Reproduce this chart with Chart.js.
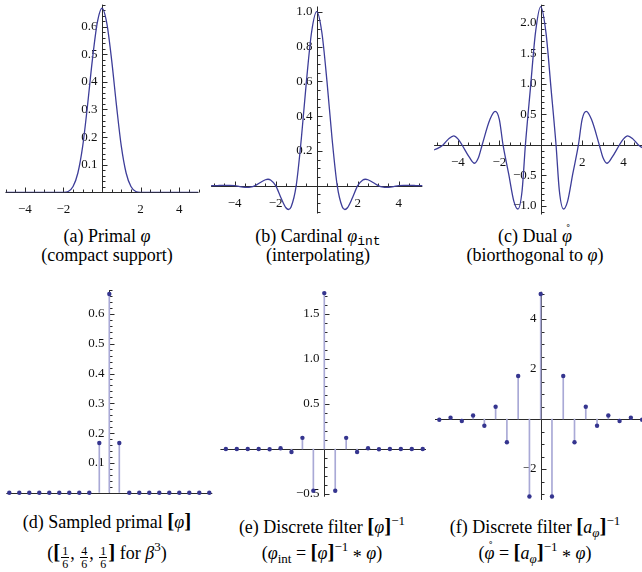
<!DOCTYPE html>
<html>
<head>
<meta charset="utf-8">
<script src="https://cdn.jsdelivr.net/npm/chart.js@4.4.1/dist/chart.umd.min.js"></script>
<style>
  body { margin: 0; width: 642px; height: 572px; background: #fff; position: relative; overflow: hidden;
         font-family: "Liberation Serif", serif; color: #000; }
  canvas { position: absolute; }
  .cap { position: absolute; width: 320px; text-align: center; font-size: 18px; line-height: 20px; white-space: nowrap; }
  .cap i { font-style: italic; }
  .tt { font-family: "Liberation Mono", monospace; font-size: 13px; vertical-align: -3px; }
  .sub { font-size: 13px; vertical-align: -4px; }
  .sup { font-size: 13px; vertical-align: 8px; }
  .br { font-weight: bold; font-size: 21px; }
  .ast { display: inline-block; font-size: 18px; vertical-align: -4px; }
  .frac { display: inline-block; vertical-align: -9px; text-align: center; font-size: 12px; line-height: 12px; margin: 0 1px; }
  .frac span { display: block; }
  .frac span:first-child { border-bottom: 1px solid #000; padding: 0 1px; }
  .ring { position: relative; display: inline-block; }
  .ring .r { position: absolute; left: 4px; top: -7px; font-style: normal; font-size: 13px; }
</style>
</head>
<body>
<div class="cap" style="left:-53px;top:226px">(a) Primal <i>φ</i></div>
<div class="cap" style="left:-53px;top:245px">(compact support)</div>
<div class="cap" style="left:158px;top:226px">(b) Cardinal <i>φ</i><span class="tt">int</span></div>
<div class="cap" style="left:158px;top:245px">(interpolating)</div>
<div class="cap" style="left:375px;top:226px">(c) Dual <span class="ring"><i>φ</i><span class="r">˚</span></span></div>
<div class="cap" style="left:375px;top:245px">(biorthogonal to <i>φ</i>)</div>
<div class="cap" style="left:-53px;top:511px">(d) Sampled primal <span class="br">[</span><i>φ</i><span class="br">]</span></div>
<div class="cap" style="left:-53px;top:537px">(<span class="br">[</span><span class="frac"><span>1</span><span>6</span></span>, <span class="frac"><span>4</span><span>6</span></span>, <span class="frac"><span>1</span><span>6</span></span><span class="br">]</span> for <i>β</i><span class="sup">3</span>)</div>
<div class="cap" style="left:162px;top:511px">(e) Discrete filter <span class="br">[</span><i>φ</i><span class="br">]</span><span class="sup">−1</span></div>
<div class="cap" style="left:162px;top:537px">(<i>φ</i><span class="sub">int</span> = <span class="br">[</span><i>φ</i><span class="br">]</span><span class="sup">−1</span> <span class="ast">*</span> <i>φ</i>)</div>
<div class="cap" style="left:375px;top:511px">(f) Discrete filter <span class="br">[</span><i>a</i><span class="sub"><i>φ</i></span><span class="br">]</span><span class="sup">−1</span></div>
<div class="cap" style="left:375px;top:537px">(<span class="ring"><i>φ</i><span class="r">˚</span></span> = <span class="br">[</span><i>a</i><span class="sub"><i>φ</i></span><span class="br">]</span><span class="sup">−1</span> <span class="ast">*</span> <i>φ</i>)</div>
<script>
// (a) primal cubic B-spline
const primalX = [-5, -4.75, -4.5, -4.25, -4, -3.75, -3.5, -3.25, -3, -2.75, -2.5, -2.25, -2,
  -1.75, -1.5, -1.25, -1, -0.75, -0.5, -0.25, 0, 0.25, 0.5, 0.75, 1, 1.25, 1.5, 1.75,
  2, 2.25, 2.5, 2.75, 3, 3.25, 3.5, 3.75, 4, 4.25, 4.5, 4.75, 5];
const primalY = [0, 0, 0, 0, 0, 0, 0, 0, 0, 0, 0, 0, 0,
  0.003, 0.021, 0.070, 0.167, 0.315, 0.479, 0.612, 0.667, 0.612, 0.479, 0.315, 0.167, 0.070, 0.021, 0.003,
  0, 0, 0, 0, 0, 0, 0, 0, 0, 0, 0, 0, 0];

// (b) cardinal spline
const cardX = [-5.25, -5, -4.75, -4.5, -4.25, -4, -3.75, -3.5, -3.375, -3.25, -3, -2.75, -2.5, -2.375, -2.25, -2,
  -1.75, -1.5, -1.375, -1.25, -1, -0.75, -0.5, -0.25, 0, 0.25, 0.5, 0.75, 1, 1.25, 1.375, 1.5, 1.75,
  2, 2.25, 2.375, 2.5, 2.75, 3, 3.25, 3.375, 3.5, 3.75, 4, 4.25, 4.5, 4.75, 5, 5.25];
const cardY = [0, 0, 0.001, 0.002, 0.002, 0, -0.005, -0.009, -0.010, -0.009, 0, 0.018, 0.034, 0.037, 0.033, 0,
  -0.068, -0.127, -0.137, -0.123, 0, 0.270, 0.601, 0.882, 1, 0.882, 0.601, 0.270, 0, -0.123, -0.137, -0.127, -0.068,
  0, 0.033, 0.037, 0.034, 0.018, 0, -0.009, -0.010, -0.009, -0.005, 0, 0.002, 0.002, 0.001, 0, 0];

// (c) dual function
const dualX = [-5.25, -5, -4.72, -4.45, -4.2, -4, -3.8, -3.45, -3.2, -3, -2.83, -2.45, -2.2, -2, -1.82, -1.55,
  -1.3, -1.1, -0.9, -0.74, -0.5, -0.25, 0, 0.25, 0.5, 0.74, 0.9, 1.1, 1.3, 1.55, 1.82, 2, 2.2, 2.45,
  2.83, 3, 3.2, 3.45, 3.8, 4, 4.2, 4.45, 4.72, 5, 5.25];
const dualY = [-0.09, -0.06, 0, 0.1, 0.15, 0.1, 0, -0.2, -0.3, -0.2, 0, 0.42, 0.55, 0.42, 0, -0.47,
  -0.92, -1.05, -0.75, 0, 0.92, 1.85, 2.27, 1.85, 0.92, 0, -0.75, -1.05, -0.92, -0.47, 0, 0.42, 0.55, 0.42,
  0, -0.2, -0.3, -0.2, 0, 0.1, 0.15, 0.1, 0, -0.06, -0.09];

// (d) sampled primal
const sampledX = [-10, -9, -8, -7, -6, -5, -4, -3, -2, -1, 0, 1, 2, 3, 4, 5, 6, 7, 8, 9, 10];
const sampledY = [0, 0, 0, 0, 0, 0, 0, 0, 0, 0.1667, 0.6667, 0.1667, 0, 0, 0, 0, 0, 0, 0, 0, 0];

// (e) inverse filter
const invX = [-9, -8, -7, -6, -5, -4, -3, -2, -1, 0, 1, 2, 3, 4, 5, 6, 7, 8, 9];
const invY = [0, 0, -0.0002, 0.0006, -0.0024, 0.009, -0.033, 0.124, -0.464, 1.732,
  -0.464, 0.124, -0.033, 0.009, -0.0024, 0.0006, -0.0002, 0, 0];

// (f) inverse autocorrelation filter
const dualFiltX = [-9, -8, -7, -6, -5, -4, -3, -2, -1, 0, 1, 2, 3, 4, 5, 6, 7, 8, 9];
const dualFiltY = [-0.03, 0.05, -0.08, 0.14, -0.27, 0.49, -0.93, 1.72, -3.1, 5.0,
  -3.1, 1.72, -0.93, 0.49, -0.27, 0.14, -0.08, 0.05, -0.03];

// tick labels
const xTicksTop = [-4, -2, 2, 4];
const xLabelsTop = ['−4', '−2', '2', '4'];
const yTicksA = [0.1, 0.2, 0.3, 0.4, 0.5, 0.6];
const yLabelsA = ['0.1', '0.2', '0.3', '0.4', '0.5', '0.6'];
const yTicksB = [0.2, 0.4, 0.6, 0.8, 1.0];
const yLabelsB = ['0.2', '0.4', '0.6', '0.8', '1.0'];
const yTicksC = [-1, -0.5, 0.5, 1, 1.5, 2];
const yLabelsC = ['−1.0', '−0.5', '0.5', '1.0', '1.5', '2.0'];
const yTicksE = [-0.5, 0.5, 1, 1.5];
const yLabelsE = ['−0.5', '0.5', '1.0', '1.5'];
const yTicksF = [-2, 2, 4];
const yLabelsF = ['−2', '2', '4'];

const LINE = '#3d3d99';
const DOT = '#35358f';
const STEM = '#a9a9d6';
const AXIS = '#2a2a2a';
const TICK_FONT = '13px "Liberation Serif", serif';

const mmaAxes = {
  id: 'mmaAxes',
  beforeDatasetsDraw(chart, _args, o) {
    const { ctx, chartArea } = chart;
    const xs = chart.scales.x, ys = chart.scales.y;
    const x0 = Math.round(xs.getPixelForValue(0)) + 0.5;
    const y0 = Math.round(ys.getPixelForValue(0)) + 0.5;
    ctx.save();
    ctx.strokeStyle = AXIS;
    ctx.lineWidth = 1;
    ctx.beginPath();
    ctx.moveTo(chartArea.left, y0); ctx.lineTo(chartArea.right, y0);
    ctx.moveTo(x0, chartArea.top); ctx.lineTo(x0, chartArea.bottom);
    if (o.xMinor) {
      for (let i = Math.ceil(xs.min / o.xMinor); i * o.xMinor <= xs.max; i++) {
        const p = Math.round(xs.getPixelForValue(i * o.xMinor)) + 0.5;
        ctx.moveTo(p, y0); ctx.lineTo(p, y0 - 3);
      }
    }
    if (o.yMinor) {
      for (let i = Math.ceil(ys.min / o.yMinor); i * o.yMinor <= ys.max + 1e-9; i++) {
        const p = Math.round(ys.getPixelForValue(i * o.yMinor)) + 0.5;
        ctx.moveTo(x0, p); ctx.lineTo(x0 + 3, p);
      }
    }
    (o.xTicks || []).forEach((v) => {
      const p = Math.round(xs.getPixelForValue(v)) + 0.5;
      ctx.moveTo(p, y0); ctx.lineTo(p, y0 - 5);
    });
    (o.yTicks || []).forEach((v) => {
      const p = Math.round(ys.getPixelForValue(v)) + 0.5;
      ctx.moveTo(x0, p); ctx.lineTo(x0 + 5, p);
    });
    ctx.stroke();
    ctx.fillStyle = '#111';
    ctx.font = TICK_FONT;
    ctx.textBaseline = 'middle';
    ctx.textAlign = 'center';
    (o.xTicks || []).forEach((v, i) => ctx.fillText(o.xLabels[i], xs.getPixelForValue(v), y0 + 17));
    ctx.textAlign = 'right';
    (o.yTicks || []).forEach((v, i) => ctx.fillText(o.yLabels[i], x0 - 5, ys.getPixelForValue(v)));
    ctx.restore();
  }
};
Chart.register(mmaAxes);

function makeCanvas(box) {
  const pad = 30;
  const cl = Math.floor(box.left) - pad, ct = Math.floor(box.top) - pad;
  const cw = Math.ceil(box.right) + pad - cl, ch = Math.ceil(box.bottom) + pad - ct;
  const c = document.createElement('canvas');
  c.width = cw; c.height = ch;
  c.style.left = cl + 'px'; c.style.top = ct + 'px';
  c.style.width = cw + 'px'; c.style.height = ch + 'px';
  document.body.appendChild(c);
  return {
    canvas: c,
    padding: { left: box.left - cl, top: box.top - ct, right: cl + cw - box.right, bottom: ct + ch - box.bottom }
  };
}

function baseOptions(padding, xr, yr, axes) {
  return {
    responsive: false,
    animation: false,
    devicePixelRatio: 1,
    events: [],
    layout: { padding },
    scales: {
      x: { type: 'linear', min: xr[0], max: xr[1], display: false, offset: false },
      y: { type: 'linear', min: yr[0], max: yr[1], display: false }
    },
    plugins: { legend: { display: false }, tooltip: { enabled: false }, mmaAxes: axes }
  };
}

function pairs(xs, ys) {
  return xs.map((x, i) => ({ x, y: ys[i] }));
}

function curveChart(box, xr, yr, xs, ys, axes) {
  const { canvas, padding } = makeCanvas(box);
  return new Chart(canvas, {
    type: 'line',
    data: {
      datasets: [{
        data: pairs(xs, ys),
        borderColor: LINE,
        borderWidth: 1.3,
        pointRadius: 0,
        cubicInterpolationMode: 'monotone',
        fill: false
      }]
    },
    options: baseOptions(padding, xr, yr, axes)
  });
}

function stemChart(box, xr, yr, xs, ys, axes) {
  const { canvas, padding } = makeCanvas(box);
  return new Chart(canvas, {
    type: 'bar',
    data: {
      datasets: [
        { type: 'scatter', data: pairs(xs, ys), pointRadius: 2.2, backgroundColor: DOT, borderWidth: 0, clip: false },
        { type: 'bar', data: pairs(xs, ys), backgroundColor: STEM, barThickness: 1, borderWidth: 0 }
      ]
    },
    options: baseOptions(padding, xr, yr, axes)
  });
}

curveChart({ left: 5.5, right: 198.5, top: 4.6, bottom: 192.3 }, [-5, 5], [0, 0.68], primalX, primalY,
  { xTicks: xTicksTop, xLabels: xLabelsTop, xMinor: 0.5, yTicks: yTicksA, yLabels: yLabelsA, yMinor: 0.02 });

curveChart({ left: 211.1, right: 422.3, top: 6.5, bottom: 213.5 }, [-5.15, 5.15], [-0.16, 1.03], cardX, cardY,
  { xTicks: xTicksTop, xLabels: xLabelsTop, xMinor: 0.5, yTicks: yTicksB, yLabels: yLabelsB, yMinor: 0.05 });

curveChart({ left: 434.1, right: 643.2, top: 4.7, bottom: 214.5 }, [-5.15, 4.95], [-1.14, 2.3], dualX, dualY,
  { xTicks: xTicksTop, xLabels: xLabelsTop, xMinor: 0.5, yTicks: yTicksC, yLabels: yLabelsC, yMinor: 0.1 });

stemChart({ left: 6.3, right: 212.3, top: 290.1, bottom: 492.7 }, [-10.3, 10.3], [0, 0.68], sampledX, sampledY,
  { yTicks: yTicksA, yLabels: yLabelsA, yMinor: 0.02 });

stemChart({ left: 220.4, right: 426.0, top: 292.4, bottom: 496.7 }, [-9.5, 9.3], [-0.53, 1.74], invX, invY,
  { yTicks: yTicksE, yLabels: yLabelsE, yMinor: 0.1 });

stemChart({ left: 435.0, right: 645.5, top: 291.75, bottom: 500.0 }, [-9.38, 9.3], [-3.24, 5.09], dualFiltX, dualFiltY,
  { yTicks: yTicksF, yLabels: yLabelsF, yMinor: 0.5 });
</script>
</body>
</html>
